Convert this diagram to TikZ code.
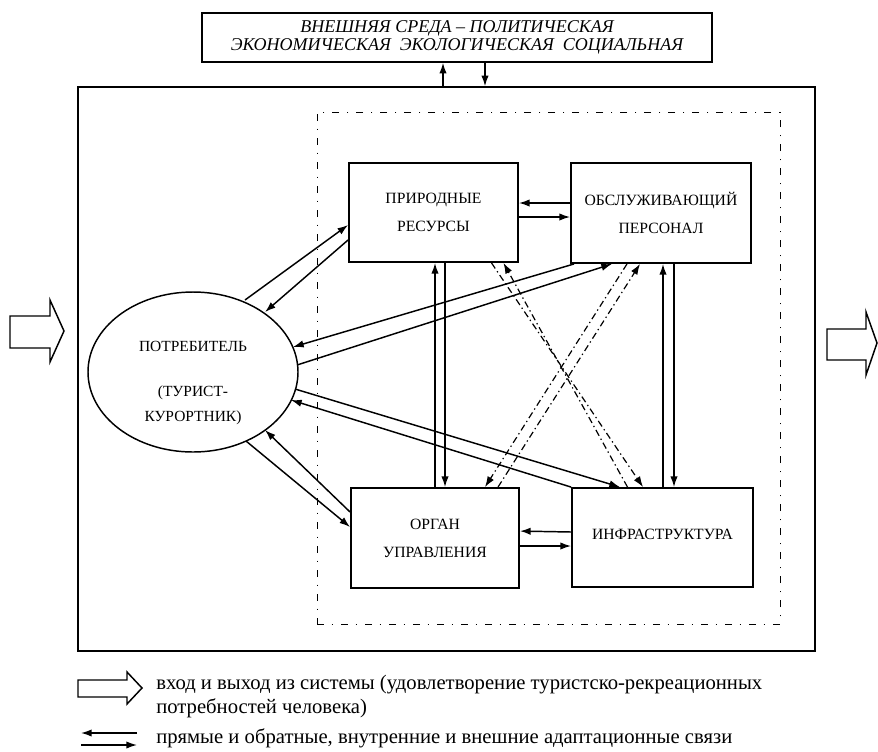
\documentclass[tikz,border=0pt]{standalone}
\usepackage{fontspec}
\setmainfont{Liberation Serif}
\usetikzlibrary{arrows.meta,calc,shapes.geometric}
\begin{document}
\begin{tikzpicture}[x=0.75pt,y=-0.75pt,
  box/.style={draw,line width=1.4pt,inner sep=0pt,align=center,font=\fontsize{11.75}{21}\selectfont},
  arr/.style={line width=1.1pt,-{Latex[length=8pt,width=5.5pt]}},
  darr/.style={line width=0.9pt,dash pattern=on 5pt off 2.5pt on 1pt off 2.5pt,-{Latex[length=8pt,width=5.5pt]}},
  hollow/.style={draw,line width=1.1pt,fill=white,line join=miter},
  legtext/.style={anchor=west,align=left,inner sep=0pt,font=\fontsize{15.5}{17.5}\selectfont}]
\useasboundingbox[fill=white] (0,0) rectangle (878,751);

% frames
\node[draw,line width=1.1pt,minimum width=552.75pt,minimum height=423pt] (outer) at (446.5,369) {};
\node[draw,line width=0.6pt,dash pattern=on 5pt off 6pt on 1pt off 6pt,minimum width=347.25pt,minimum height=384pt] (inner) at (548.5,368) {};

% top box
\node[box,line width=1.1pt,minimum width=382.5pt,minimum height=36.75pt,font=\itshape\fontsize{13.5}{13}\selectfont] (top) at (457,37.5)
  {ВНЕШНЯЯ СРЕДА – ПОЛИТИЧЕСКАЯ\\ЭКОНОМИЧЕСКАЯ\ \ ЭКОЛОГИЧЕСКАЯ\ \ СОЦИАЛЬНАЯ};

% boxes
\node[box,minimum width=126.75pt,minimum height=74.25pt] (PR) at (433.5,212.5) {ПРИРОДНЫЕ\\РЕСУРСЫ};
\node[box,minimum width=135pt,minimum height=75pt] (OB) at (661,213) {ОБСЛУЖИВАЮЩИЙ\\ПЕРСОНАЛ};
\node[box,minimum width=126pt,minimum height=75pt] (OR) at (435,538) {ОРГАН\\УПРАВЛЕНИЯ};
\node[box,minimum width=135.75pt,minimum height=74.25pt] (IN) at (662.5,537.5) {\raisebox{5pt}{ИНФРАСТРУКТУРА}};

% ellipse
\node[draw,ellipse,line width=1.1pt,minimum width=157.5pt,minimum height=120pt,inner sep=0pt] (E) at (193,372) {};
\node[align=center,inner sep=0pt,font=\fontsize{11.6}{18.75}\selectfont] (Etext) at (193,383) {ПОТРЕБИТЕЛЬ\\[15pt](ТУРИСТ-\\КУРОРТНИК)};

% top <-> outer
\draw[arr] ($(outer.north)+(-3.5,0)$) -- ($(top.south)+(-14,0)$);
\draw[arr] ($(top.south)+(28,0)$) -- ($(outer.north)+(38.5,0)$);

% PR <-> OB
\draw[arr] ($(OB.west)+(0,-10)$) -- ($(PR.east)+(0,-9.5)$);
\draw[arr] ($(PR.east)+(0,4.5)$) -- ($(OB.west)+(0,4)$);
% OR <-> IN
\draw[arr] ($(IN.west)+(0,-5.5)$) -- ($(OR.north east)+(0,44)$);
\draw[arr] ($(OR.east)+(0,8)$) -- ($(IN.west)+(0,8.5)$);
% PR <-> OR
\draw[arr] ($(OR.north)+(0,0)$) -- ($(PR.south)+(1.5,0)$);
\draw[arr] ($(PR.south)+(11.5,0)$) -- ($(OR.north)+(10,0)$);
% OB <-> IN
\draw[arr] ($(IN.north)+(0.5,0)$) -- ($(OB.south)+(2,0)$);
\draw[arr] ($(OB.south)+(13,0)$) -- ($(IN.north)+(11.5,0)$);

% ellipse <-> PR
\draw[arr] ($(E.center)+(52,-72)$) -- ($(PR.west)+(0,12.5)$);
\draw[arr] ($(PR.west)+(0,27.5)$) -- ($(E.center)+(72,-60)$);
% ellipse <-> OB
\draw[arr] ($(OB.south west)+(4,0)$) -- ($(E.center)+(100,-25)$);
\draw[arr] ($(E.center)+(104,-7)$) -- ($(OB.south)+(-49,0)$);
% ellipse <-> IN
\draw[arr] ($(E.center)+(102,17)$) -- ($(IN.north)+(-42.5,0)$);
\draw[arr] ($(IN.north west)+(0,0)$) -- ($(E.center)+(98,28)$);
% ellipse <-> OR
\draw[arr] ($(OR.west)+(0,-26)$) -- ($(E.center)+(72,58)$);
\draw[arr] ($(E.center)+(53,69)$) -- ($(OR.west)+(0,-11)$);

% dashed cross links
\draw[darr] ($(OR.north)+(63,0)$) -- ($(OB.south)+(-21,0)$);
\draw[darr] ($(OB.south)+(-34,0)$) -- ($(OR.north)+(50,0)$);
\draw[darr] ($(PR.south)+(58,0)$) -- ($(IN.north)+(-19.5,0)$);
\draw[darr] ($(IN.north)+(-35,0)$) -- ($(PR.south)+(70,0)$);

% in / out hollow arrows
\draw[hollow] (10,316) -- (50,316) -- (50,300) -- (64,331) -- (50,362) -- (50,348) -- (10,348) -- cycle;
\draw[hollow] (827,329) -- (866,329) -- (866,312) -- (877,343) -- (866,375) -- (866,360) -- (827,360) -- cycle;

% legend
\draw[hollow] (78,680) -- (127,680) -- (127,672) -- (142,688) -- (127,704) -- (127,697) -- (78,697) -- cycle;
\node[legtext] (L1) at (156,696.5) {вход и выход из системы (удовлетворение туристско-рекреационных\\потребностей человека)};
\coordinate (La) at (81,733);
\coordinate (Lb) at (137,733);
\coordinate (Lc) at (81,745);
\coordinate (Ld) at (137,745);
\draw[arr] (Lb) -- (La);
\draw[arr] (Lc) -- (Ld);
\node[legtext] (L2) at (156,738) {прямые и обратные, внутренние и внешние адаптационные связи};
\end{tikzpicture}
\end{document}
